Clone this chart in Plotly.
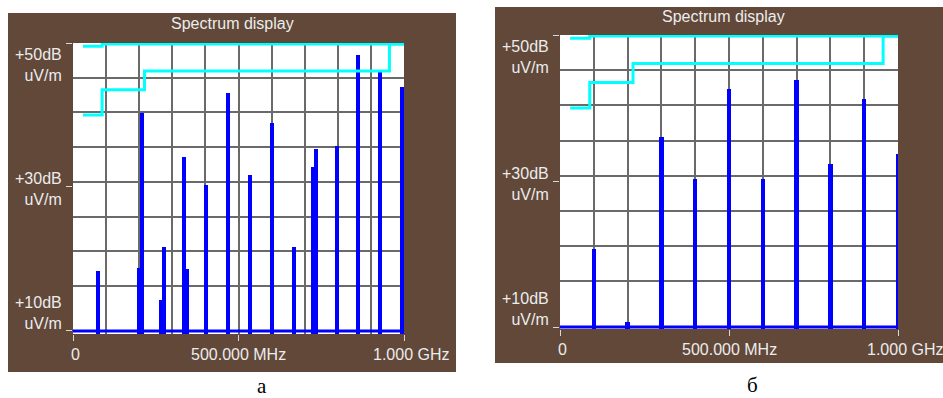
import plotly.graph_objects as go

W, H = 943, 398

# ---------------- data ----------------
# panel "а": peaks (MHz, dBuV/m)
freq_a = [75, 199, 208, 266, 275, 335, 344, 402, 468, 535, 602, 668, 726, 733, 797, 862, 927, 994]
level_a = [18.3, 18.7, 40.3, 14.3, 21.7, 34.2, 18.6, 30.3, 43.1, 31.7, 38.9, 21.7, 32.8, 35.3, 35.7, 48.3, 46.0, 43.9]

# panel "б": peaks (MHz, dBuV/m)
freq_b = [100, 200, 300, 400, 500, 600, 700, 800, 900, 1000]
level_b = [20.7, 10.7, 36.0, 30.3, 42.6, 30.3, 43.8, 32.3, 41.2, 33.7]

noise_floor = 10.0
span = [0, 1000]

# limit lines (as drawn, clipped at the top of the screen)
limit_low_freq = [30, 88, 88, 216, 216, 956, 956, 1000]
limit_low_level = [40.0, 40.0, 43.5, 43.5, 46.1, 46.1, 49.85, 49.85]
limit_high_freq = [30, 88, 88, 1000]
limit_high_level = [49.55, 49.55, 49.85, 49.85]

y_tick_vals = [10, 30, 50]
y_tick_text = ["+10dB<br>uV/m", "+30dB<br>uV/m", "+50dB<br>uV/m"]
y_grid_vals = [16.3, 21.1, 25.9, 30.7, 35.5, 40.4, 45.2]
x_tick_vals = [0, 500, 1000]
x_tick_text = ["0", "500.000 MHz", "1.000 GHz"]
x_grid_vals = [100, 200, 300, 400, 600, 700, 800, 900]

# ---------------- styling ----------------
BROWN = "#614839"
GRID = "#6a6a6a"
TXT = "#ececec"
FONT = "Liberation Sans"

def px(x):
    return x / W

def py(y):
    return 1 - y / H

panels = [
    dict(box=(8, 13, 456, 372), plot=(73, 43, 404, 334), y0=9.58, sfx="", lab="а", lab_xy=(262, 386),
         freq=freq_a, level=level_a),
    dict(box=(495, 7, 943, 363), plot=(560, 35, 898, 329), y0=9.73, sfx="2", lab="б", lab_xy=(752, 385),
         freq=freq_b, level=level_b),
]

fig = go.Figure()
shapes = []
annotations = []
layout_axes = {}
label_shift = {10: 18, 30: -2.5, 50: -22}

for p in panels:
    xa = "x" + p["sfx"]
    ya = "y" + p["sfx"]
    fig.add_trace(go.Scatter(x=limit_high_freq, y=limit_high_level, mode="lines",
                             line=dict(color="#00ffff", width=3), xaxis=xa, yaxis=ya,
                             showlegend=False, hoverinfo="skip"))
    fig.add_trace(go.Scatter(x=limit_low_freq, y=limit_low_level, mode="lines",
                             line=dict(color="#00ffff", width=3), xaxis=xa, yaxis=ya,
                             showlegend=False, hoverinfo="skip"))
    fig.add_trace(go.Bar(x=p["freq"], y=p["level"], width=12.5,
                         marker=dict(color="#0000ff", line=dict(width=0)),
                         xaxis=xa, yaxis=ya, showlegend=False))
    fig.add_trace(go.Scatter(x=span, y=[noise_floor, noise_floor], mode="lines",
                             line=dict(color="#0000ff", width=3), xaxis=xa, yaxis=ya,
                             showlegend=False, hoverinfo="skip"))

    bx0, by0, bx1, by1 = p["box"]
    x0, y0, x1, y1 = p["plot"]
    shapes.append(dict(type="rect", xref="paper", yref="paper", x0=px(bx0), x1=px(bx1),
                       y0=py(by1), y1=py(by0), fillcolor=BROWN, line=dict(width=0), layer="below"))
    shapes.append(dict(type="rect", xref=xa + " domain", yref=ya + " domain", x0=0, x1=1, y0=0, y1=1,
                       fillcolor="white", line=dict(width=0), layer="below"))

    layout_axes["xaxis" + p["sfx"]] = dict(
        domain=[px(x0), px(x1)], range=span, anchor=ya,
        tickmode="array", tickvals=x_tick_vals, showticklabels=False,
        ticks="outside", ticklen=6, tickcolor="#d8d8d8", tickwidth=1,
        showgrid=True, gridcolor=GRID, gridwidth=1.6, zeroline=False, showline=False,
        minor=dict(tickmode="array", tickvals=x_grid_vals, showgrid=True, gridcolor=GRID,
                   gridwidth=1.6, ticks=""),
        fixedrange=True,
    )
    layout_axes["yaxis" + p["sfx"]] = dict(
        domain=[py(y1), py(y0)], range=[p["y0"], 50], anchor=xa,
        tickmode="array", tickvals=y_tick_vals, showticklabels=False,
        ticks="outside", ticklen=6, tickcolor="#d8d8d8", tickwidth=1,
        showgrid=False, zeroline=False, showline=False,
        minor=dict(tickmode="array", tickvals=y_grid_vals, showgrid=True, gridcolor=GRID,
                   gridwidth=1.6, ticks=""),
        fixedrange=True,
    )

    for v, t in zip(y_tick_vals, y_tick_text):
        annotations.append(dict(xref=xa + " domain", yref=ya, x=0, y=v, xanchor="right", yanchor="middle",
                                xshift=-9, yshift=label_shift[v], text=t, align="right", showarrow=False,
                                font=dict(family=FONT, size=16, color=TXT)))
    for v, t in zip(x_tick_vals, x_tick_text):
        if v == 1000:
            anc, xs = "left", -33
        else:
            anc, xs = "center", 2 if v == 0 else 0
        annotations.append(dict(xref=xa, yref=ya + " domain", x=v, y=0, xanchor=anc, yanchor="middle",
                                xshift=xs, yshift=-20, text=t, showarrow=False,
                                font=dict(family=FONT, size=16, color=TXT)))
    annotations.append(dict(xref=xa + " domain", yref=ya + " domain", x=0.5, y=1, xanchor="center",
                            yanchor="middle", xshift=-6, yshift=19, text="Spectrum display", showarrow=False,
                            font=dict(family=FONT, size=16, color=TXT)))
    lx, ly = p["lab_xy"]
    annotations.append(dict(xref="paper", yref="paper", x=px(lx), y=py(ly), xanchor="center", yanchor="middle",
                            text=p["lab"], showarrow=False,
                            font=dict(family="Liberation Serif", size=21, color="black")))

fig.update_layout(
    width=W, height=H,
    margin=dict(l=0, r=0, t=0, b=0),
    paper_bgcolor="white", plot_bgcolor="white",
    barmode="overlay", bargap=0,
    shapes=shapes, annotations=annotations,
    showlegend=False,
    **layout_axes,
)

fig.write_html("out.html", config={"displayModeBar": False},
               post_script="document.body.style.margin='0';document.body.style.overflow='hidden';")
